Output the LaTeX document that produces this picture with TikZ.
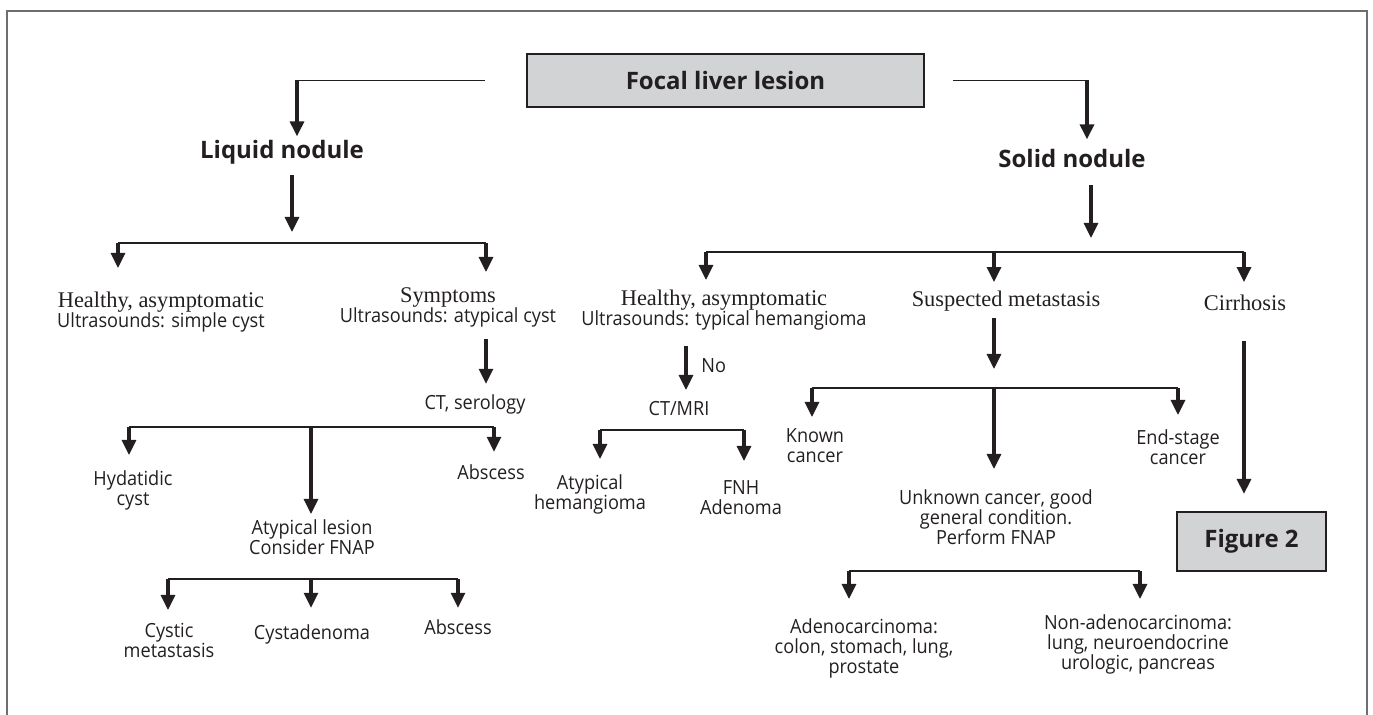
\documentclass[tikz,border=0pt]{standalone}
\usepackage{fontspec}
\setmainfont{Liberation Serif}
\newfontfamily\bodyfont{Open Sans}[FakeStretch=0.93]
\newfontfamily\headfont{Open Sans}
\usetikzlibrary{arrows.meta}
\definecolor{ink}{HTML}{231F20}
\definecolor{framegray}{HTML}{6D6E71}
\definecolor{boxgray}{HTML}{D1D3D4}
\newcommand\serifline{\rmfamily\fontsize{11.2}{10}\selectfont}

\begin{document}
\begin{tikzpicture}[x=0.5pt, y=-0.5pt,
        lbl/.style={inner sep=0pt, text=ink, align=center, font=\bodyfont\fontsize{9.75}{10}\selectfont},
        serif/.style={inner sep=0pt, text=ink, font=\serifline},
        head/.style={inner sep=0pt, text=ink, font=\headfont\bfseries\fontsize{12}{14}\selectfont},
        gbox/.style={draw=ink, line width=1.1pt, fill=boxgray, text=ink, inner sep=0pt, font=\headfont\bfseries\fontsize{12}{14}\selectfont},
        thinline/.style={draw=ink, line width=0.75pt},
        bar/.style={draw=ink, line width=1pt},
        arr/.style={draw=ink, line width=1.6pt, -{Triangle[length=7.5pt, width=7pt]}}
    ]
        \useasboundingbox (0,0) rectangle (1373,715);
        \draw[framegray, line width=0.75pt] (7,715) -- (7,11) -- (1367,11) -- (1367,715);

        % top level
        \node[gbox, minimum width=198.5pt, minimum height=26.5pt] (lesion) at (725.5,80.5) {Focal liver lesion};
        \node[head, anchor=base] (liquid) at (282,159) {Liquid nodule};
        \node[head, anchor=base] (solid) at (1072,168) {Solid nodule};

        % liquid side
        \node[lbl, anchor=north] (healthyL) at (161,292) {{\serifline Healthy, asymptomatic}\\Ultrasounds: simple cyst};
        \node[lbl, anchor=north] (symptoms) at (448,287) {{\serifline Symptoms}\\Ultrasounds: atypical cyst};
        \node[lbl, anchor=base] (ctser) at (475,410) {CT, serology};
        \node[lbl, anchor=north] (hydatidic) at (133,470) {Hydatidic\\cyst};
        \node[lbl, anchor=north] (atyplesion) at (312,519) {Atypical lesion\\Consider FNAP};
        \node[lbl, anchor=base] (abscessA) at (491,480) {Abscess};
        \node[lbl, anchor=north] (cystic) at (169,623) {Cystic\\metastasis};
        \node[lbl, anchor=base] (cystaden) at (312,640) {Cystadenoma};
        \node[lbl, anchor=base] (abscessB) at (458,635) {Abscess};

        % solid side
        \node[lbl, anchor=north] (healthyM) at (724,290) {{\serifline Healthy, asymptomatic}\\Ultrasounds: typical hemangioma};
        \node[serif, anchor=base] (suspected) at (1006,307) {Suspected metastasis};
        \node[serif, anchor=base] (cirrhosis) at (1245,311) {Cirrhosis};
        \node[lbl, anchor=base west] (no) at (701,373) {No};
        \node[lbl, anchor=base] (ctmri) at (679,416) {CT/MRI};
        \node[lbl, anchor=north] (atyphem) at (590,474) {Atypical\\hemangioma};
        \node[lbl, anchor=north] (fnh) at (741,480) {FNH\\Adenoma};
        \node[lbl, anchor=north] (known) at (815,428) {Known\\cancer};
        \node[lbl, anchor=north] (unknown) at (996,489) {Unknown cancer, good\\general condition.\\Perform FNAP};
        \node[lbl, anchor=north] (endstage) at (1178,429) {End-stage\\cancer};
        \node[gbox, minimum width=74.5pt, minimum height=29.5pt] (fig2) at (1251.5,541.5) {Figure 2};
        \node[lbl, anchor=north] (adeno) at (864,618) {Adenocarcinoma:\\colon, stomach, lung,\\prostate};
        \node[lbl, anchor=north] (nonadeno) at (1138,614) {Non-adenocarcinoma:\\lung, neuroendocrine\\urologic, pancreas};

        % turning points and branch bars
        \coordinate (liqTurn) at (297,82);
        \coordinate (solTurn) at (1087,82);
        \coordinate (b1l) at (118,243);
        \coordinate (b1m) at (292,243);
        \coordinate (b1r) at (486,243);
        \coordinate (b2l) at (706,252);
        \coordinate (b2m) at (994,252);
        \coordinate (b2s) at (1091,252);
        \coordinate (b2r) at (1244,252);
        \coordinate (b3l) at (129,427);
        \coordinate (b3m) at (311,427);
        \coordinate (b3r) at (494,427);
        \coordinate (b4l) at (168,579);
        \coordinate (b4m) at (311,579);
        \coordinate (b4r) at (458,579);
        \coordinate (noTip) at (686,390);
        \coordinate (b5l) at (600,430);
        \coordinate (b5r) at (744,430);
        \coordinate (b6l) at (812,388);
        \coordinate (b6m) at (994,388);
        \coordinate (b6r) at (1178,388);
        \coordinate (b7l) at (849,571);
        \coordinate (b7r) at (1140,571);

        % from the first box
        \draw[thinline, shorten <=20.5pt] (lesion.west) -- (liqTurn |- lesion.west);
        \draw[arr, shorten >=2pt] (liqTurn |- lesion.west) -- (liquid.north -| liqTurn);
        \draw[thinline, shorten <=14pt] (lesion.east) -- (solTurn |- lesion.east);
        \draw[arr, shorten >=5pt] (solTurn |- lesion.east) -- (solid.north -| solTurn);

        % liquid nodule
        \draw[arr, shorten <=5pt, shorten >=5.5pt] (liquid.south -| b1m) -- (b1m);
        \draw[bar] (b1l) -- (b1r);
        \draw[arr, shorten >=12pt] (b1l) -- (healthyL.north -| b1l);
        \draw[arr, shorten >=7.5pt] (b1r) -- (symptoms.north -| b1r);
        \draw[arr, shorten <=6pt, shorten >=5.5pt] (symptoms.south -| b1r) -- (ctser.north -| b1r);
        \draw[bar] (b3l) -- (b3r);
        \draw[arr, shorten >=7.5pt] (b3l) -- (hydatidic.north -| b3l);
        \draw[arr, shorten >=2.5pt] (b3m) -- (atyplesion.north -| b3m);
        \draw[arr, shorten >=6.5pt] (b3r) -- (abscessA.north -| b3r);
        \draw[bar] (b4l) -- (b4r);
        \draw[arr, shorten >=6.5pt] (b4l) -- (cystic.north -| b4l);
        \draw[arr, shorten >=8.5pt] (b4m) -- (cystaden.north -| b4m);
        \draw[arr, shorten >=6pt] (b4r) -- (abscessB.north -| b4r);

        % solid nodule
        \draw[arr, shorten <=8pt, shorten >=7pt] (solid.south -| b2s) -- (b2s);
        \draw[bar] (b2l) -- (b2r);
        \draw[arr, shorten >=5pt] (b2l) -- (healthyM.north -| b2l);
        \draw[arr, shorten >=4.5pt] (b2m) -- (suspected.north -| b2m);
        \draw[arr, shorten >=6.5pt] (b2r) -- (cirrhosis.north -| b2r);
        \draw[arr, shorten <=7.5pt] (healthyM.south -| noTip) -- (noTip);
        \draw[bar] (b5l) -- (b5r);
        \draw[arr, shorten >=7.5pt] (b5l) -- (atyphem.north -| b5l);
        \draw[arr, shorten >=9.5pt] (b5r) -- (fnh.north -| b5r);
        \draw[arr, shorten <=3pt, shorten >=9.5pt] (suspected.south -| b6m) -- (b6m);
        \draw[bar] (b6l) -- (b6r);
        \draw[arr, shorten >=5.5pt] (b6l) -- (known.north -| b6l);
        \draw[arr, shorten >=10pt] (b6m) -- (unknown.north -| b6m);
        \draw[arr, shorten >=7pt] (b6r) -- (endstage.north -| b6r);
        \draw[bar] (b7l) -- (b7r);
        \draw[arr, shorten >=9.5pt] (b7l) -- (adeno.north -| b7l);
        \draw[arr, shorten >=7.5pt] (b7r) -- (nonadeno.north -| b7r);
        \draw[arr, shorten <=14.5pt, shorten >=8.5pt] (cirrhosis.south -| b2r) -- (fig2.north -| b2r);
    \end{tikzpicture}
\end{document}
